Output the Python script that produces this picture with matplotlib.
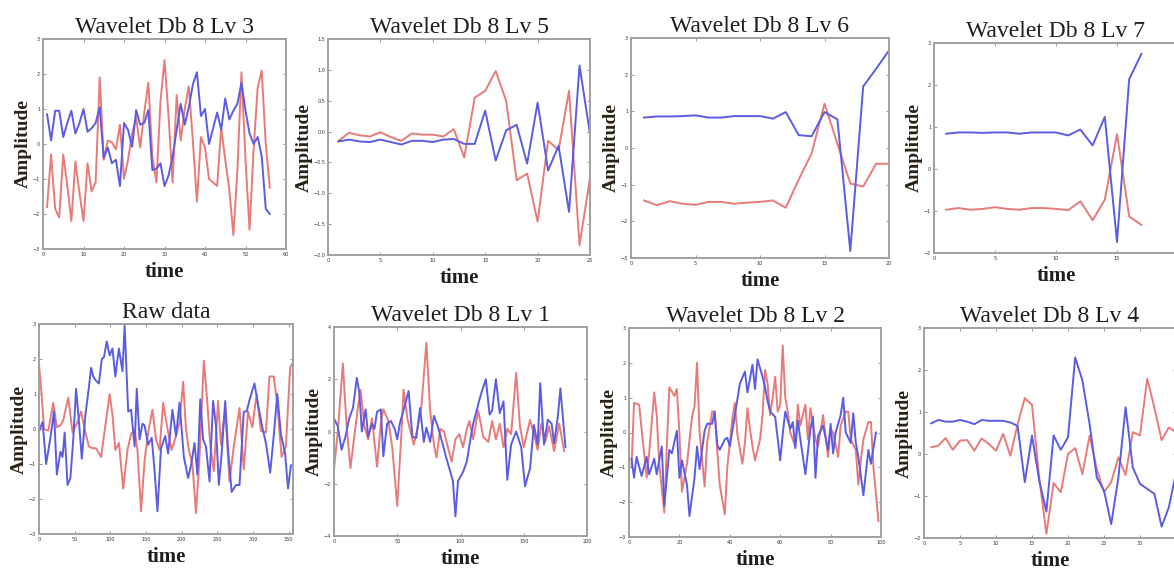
import numpy as np
import matplotlib.pyplot as plt

# ---- signal traces (time, amplitude) ----
lv3_t = np.arange(1, 57)
lv3_blue = [0.85, 0.1, 0.95, 0.95, 0.2, 0.6, 0.95, 0.3, 0.6, 1.0, 0.35, 0.45, 0.6, 1.05,
            -0.4, -0.1, -0.55, -0.45, -1.2, 0.6, 0.4, -0.08, 0.97, 0.55, 0.6, 0.97, -0.75, -0.7,
            -0.55, -1.2, -0.9, -0.36, 0.4, 1.15, 0.55, 1.05, 1.7, 2.05, 0.8, 1.0, 0.0, 0.45,
            0.9, 0.4, 1.3, 0.7, 0.95, 1.15, 1.75, 0.95, 0.3, 0.0, 0.2, -0.35, -1.85, -2.0]
lv3_red = [-1.8, -0.3, -1.85, -2.1, -0.3, -1.2, -2.2, -0.5, -1.4, -2.2, -0.55, -1.35, -1.1, 1.9,
           -0.45, 0.1, 0.05, -0.15, 0.55, -1.0, -0.45, 0.3, 0.75, -0.1, 0.9, 1.75, -0.35, -1.1,
           1.2, 2.4, 0.8, -1.1, 1.4, 0.1, 1.0, 1.65, 0.1, -1.65, 0.2, -0.1, -1.0, -1.1,
           -1.2, 0.45, -0.45, -1.3, -2.6, -0.75, 2.05, -0.45, -2.45, -0.15, 1.6, 2.1, 0.0, -1.25]

lv5_t = np.arange(1, 26)
lv5_blue = [-0.16, -0.13, -0.16, -0.17, -0.13, -0.17, -0.21, -0.15, -0.15, -0.17, -0.13, -0.12,
            -0.2, -0.2, 0.34, -0.47, 0.02, 0.11, -0.52, 0.47, -0.63, -0.23, -1.3, 1.07, -0.04]
lv5_red = [-0.15, -0.02, -0.06, -0.08, -0.01, -0.09, -0.15, -0.03, -0.05, -0.05, -0.08, 0.04,
           -0.42, 0.55, 0.66, 0.98, 0.5, -0.79, -0.68, -1.46, -0.15, -0.3, 0.66, -1.84, -0.75]

lv6_t = np.arange(1, 21)
lv6_blue = [0.83, 0.86, 0.86, 0.87, 0.89, 0.83, 0.83, 0.87, 0.87, 0.87, 0.8, 0.98, 0.35, 0.32,
            0.98, 0.78, -2.81, 1.68, 2.16, 2.66]
lv6_red = [-1.43, -1.56, -1.45, -1.52, -1.55, -1.47, -1.47, -1.52, -1.49, -1.47, -1.43, -1.63,
           -0.86, -0.15, 1.21, 0.12, -0.97, -1.05, -0.43, -0.43]

lv7_t = np.arange(1, 18)
lv7_blue = [0.84, 0.87, 0.87, 0.86, 0.87, 0.87, 0.84, 0.87, 0.87, 0.87, 0.8, 0.94, 0.56, 1.24,
            -1.74, 2.14, 2.74]
lv7_red = [-0.97, -0.93, -0.97, -0.95, -0.91, -0.95, -0.97, -0.93, -0.93, -0.95, -0.98, -0.77,
           -1.22, -0.73, 0.83, -1.13, -1.33]

raw_blue_t = [0, 5, 10, 16, 21, 25, 30, 33, 36, 40, 44, 48, 52, 56, 60, 65, 70, 73, 76, 79, 84,
              88, 91, 95, 99, 103, 107, 112, 117, 120, 125, 129, 134, 137, 141, 145, 148, 153,
              158, 162, 166, 171, 177, 181, 187, 192, 197, 203, 209, 213, 218, 222, 226, 230,
              234, 239, 244, 248, 252, 256, 261, 265, 270, 276, 281, 287, 291, 296, 302, 307,
              313, 318, 324, 329, 334, 339, 345, 349, 353]
raw_blue = [-0.07, 0.2, -1.0, -0.25, 0.5, -1.3, -0.65, -0.8, -0.1, -1.6, -1.4, -0.3, 1.15, 0.2,
            -0.85, 0.4, 1.2, 1.75, 1.5, 1.4, 1.3, 2.0, 2.05, 2.5, 2.1, 2.3, 1.5, 2.3, 1.65, 2.95,
            0.5, 0.55, -0.5, 1.15, -0.3, 0.15, 0.1, -0.45, -0.25, -1.2, -2.35, -0.55, -0.2, -0.7,
            0.55, -0.2, 0.75, -0.8, -1.4, -1.05, -0.4, -1.3, 0.85, -0.3, -0.5, -1.5, 0.8, 0.1,
            -1.6, -0.7, 0.8, -0.6, -1.8, -1.6, -1.6, 0.5, 0.5, 0.9, 1.3, 0.7, 0.05, -0.4, -1.25,
            -0.2, 1.0, -0.15, -0.7, -1.7, -1.05]
raw_red_t = [0, 4, 7, 13, 20, 25, 30, 34, 41, 47, 53, 59, 65, 70, 75, 80, 87, 93, 99, 103, 107,
             112, 118, 124, 129, 134, 138, 143, 148, 153, 159, 164, 169, 174, 181, 186, 192, 197,
             202, 206, 210, 215, 220, 225, 231, 235, 240, 245, 251, 255, 261, 267, 273, 281, 287,
             293, 299, 305, 311, 318, 323, 329, 334, 340, 346, 352, 356]
raw_red = [1.85, 0.9, 0.0, -0.05, 0.75, 0.05, 0.1, 0.25, 0.9, -0.1, 0.15, 0.5, -0.1, -0.5, -0.55,
           -0.55, -0.8, 0.1, 1.0, 0.4, -0.6, -0.4, -1.7, -0.6, -0.15, 0.0, -0.6, -2.35, -0.9,
           -0.1, 0.55, -0.3, -0.6, 0.75, -0.1, -0.6, -0.2, 0.2, 1.35, 0.0, -0.6, -1.0, -2.4, -0.8,
           1.95, 1.0, -0.45, -1.2, 0.8, -0.45, 0.55, -1.5, -0.5, 0.6, -1.15, 0.5, 0.05, 1.0,
           -0.05, -0.1, 1.5, 1.5, 0.7, -0.8, -0.5, 1.75, 1.9]

lv1_blue_t = [0, 3, 6, 9, 12, 15, 18, 20, 22, 25, 27, 30, 32, 34, 37, 39, 42, 45, 48, 50, 52, 56,
              59, 62, 65, 68, 71, 73, 76, 79, 82, 86, 89, 92, 94, 96, 98, 102, 105, 108, 110, 113,
              116, 120, 123, 125, 128, 131, 134, 137, 140, 144, 148, 151, 155, 158, 161, 163,
              166, 169, 172, 174, 177, 179, 181, 183]
lv1_blue = [0.5, 0.2, -0.7, -0.2, 0.5, 0.9, 2.05, 1.5, 0.0, 0.85, -0.2, 0.3, 0.1, 0.75, 0.85,
            -0.95, 0.3, 0.4, 0.1, -0.3, 0.3, 1.0, 1.55, -0.2, -0.25, 0.9, -0.4, 0.15, -0.4, 0.6,
            0.2, -0.5, -1.05, -1.55, -1.9, -3.25, -1.9, -1.55, -1.15, -0.25, 0.3, 0.85, 1.4, 2.0,
            0.65, 0.8, 2.0, 0.7, 1.15, -1.85, -0.5, 0.0, -0.6, -2.1, -1.4, 0.25, -0.5, 1.85,
            -0.5, 0.45, 0.3, -0.45, 0.6, 1.65, 0.5, -0.6]
lv1_red_t = [0, 3, 7, 10, 13, 16, 19, 21, 24, 27, 30, 34, 37, 39, 43, 46, 50, 53, 55, 58, 61, 63,
             66, 69, 73, 76, 79, 81, 84, 87, 90, 93, 96, 99, 102, 105, 107, 110, 114, 118, 122,
             125, 128, 131, 134, 137, 140, 144, 147, 150, 155, 158, 161, 164, 167, 170, 174,
             178, 182]
lv1_red = [-1.45, 0.0, 2.6, 0.2, -1.4, -0.2, 0.95, 1.6, 0.2, -0.3, 0.5, -1.35, 0.3, 0.85, 0.4,
           -0.6, -2.85, -0.3, 1.6, 0.5, -0.1, -0.5, 0.1, 0.9, 3.4, 0.8, -0.5, -1.0, 0.1, 0.0,
           -0.6, -1.15, -0.3, -0.1, -0.6, 0.1, 0.4, -0.3, 0.8, -0.2, -0.4, 0.4, -0.3, 0.3, -0.6,
           0.1, -0.1, 2.25, 0.2, -0.6, 0.45, -0.1, -0.7, 0.3, -0.4, 0.2, -0.75, 0.3, -0.75]

lv2_blue_t = [1, 2, 3, 5, 7, 8, 10, 11, 13, 14, 16, 17, 19, 20, 21, 23, 24, 26, 27, 28, 30, 31,
              33, 34, 35, 36, 38, 39, 40, 42, 44, 46, 47, 49, 50, 51, 53, 54, 55, 56, 58, 60,
              61, 62, 64, 65, 66, 67, 68, 70, 72, 73, 74, 75, 77, 79, 80, 81, 82, 84, 85, 86,
              88, 89, 90, 91, 93, 95, 96, 98]
lv2_blue = [-0.75, -1.3, -0.7, -1.25, -0.7, -1.2, -0.75, -1.2, -0.4, -2.1, -0.5, -0.6, 0.05,
            -1.3, -0.8, -1.5, -2.4, -1.3, -0.4, -1.05, 0.05, 0.25, 0.25, 0.6, -0.35, -0.5, -0.2,
            -0.15, -0.4, 0.5, 1.4, 1.75, 1.15, 1.95, 1.25, 2.1, 1.6, 1.3, 0.9, 0.6, 0.45, -0.8,
            -0.05, 0.6, 0.1, 0.3, -0.45, 0.35, -0.2, -1.2, 0.1, 0.45, -1.3, -0.1, 0.2, -0.5,
            0.25, -0.6, 0.0, 0.5, 1.0, 0.0, -0.3, 0.55, -0.3, -0.7, -1.8, -0.5, -0.9, 0.0]
lv2_red_t = [1, 2, 4, 6, 7, 8, 10, 11, 12, 14, 15, 16, 18, 19, 20, 21, 23, 25, 26, 27, 28, 30,
             31, 33, 34, 35, 36, 38, 39, 41, 42, 43, 45, 46, 47, 48, 49, 50, 52, 53, 54, 55, 56,
             57, 58, 59, 60, 61, 62, 63, 64, 66, 67, 68, 70, 71, 72, 74, 75, 77, 79, 80, 81, 83,
             84, 86, 87, 88, 90, 91, 92, 93, 95, 96, 97, 99]
lv2_red = [-1.0, 0.85, 0.8, -0.6, -1.3, -0.6, 1.15, 0.5, -0.9, -2.3, -0.4, 1.3, 1.05, 1.25, 0.0,
           -1.7, -0.9, 0.45, 0.75, 2.0, 0.0, -1.55, -0.3, 0.6, 0.6, -0.5, -1.5, -2.35, -1.0, 0.4,
           0.85, -0.05, -0.9, -0.3, 0.7, 0.1, -0.4, -0.8, -0.2, 0.5, 1.8, 1.4, 0.5, 1.0, 1.6,
           0.6, 0.8, 2.5, 1.0, 0.6, 0.0, -0.4, 0.8, 0.2, 0.8, -0.2, 0.7, -0.2, -0.4, 0.5, -0.7,
           0.1, 0.0, -0.7, 0.2, 0.6, 0.6, -0.2, -0.5, -1.5, -0.8, -0.2, 0.3, 0.3, -1.0, -2.55]

lv4_t = np.arange(1, 36)
lv4_blue = [0.73, 0.81, 0.77, 0.77, 0.81, 0.77, 0.71, 0.81, 0.79, 0.79, 0.79, 0.75, 0.67, -0.67,
            0.44, -0.63, -1.37, 0.44, 0.1, 0.4, 2.3, 1.75, 0.71, -0.56, -0.87, -1.67, -0.56, 1.11,
            -0.32, -0.71, -0.83, -0.95, -1.73, -1.27, -0.45]
lv4_red = [0.16, 0.2, 0.38, 0.1, 0.32, 0.33, 0.08, 0.37, 0.24, 0.08, 0.48, -0.04, 0.71, 1.33,
           1.17, -0.56, -1.9, -0.69, -0.91, 0.0, 0.14, -0.48, 0.44, -0.36, -0.91, -0.67, -0.08,
           -0.5, 0.52, 0.44, 1.79, 1.1, 0.33, 0.63, 0.52]

BLUE = '#5c5ce2'
RED = '#e87a7a'

W, H = 1174, 570
fig = plt.figure(figsize=(W / 100, H / 100), dpi=100)
fig.patch.set_facecolor('white')

# title, box (left, top, right, bottom in px), xlim, last labelled x tick, x step,
# ylim, y step, data
panels = [
    ('Wavelet Db 8 Lv 3', (43, 39, 286, 249), (0, 60), 60, 10, (-3, 3), 1,
     (lv3_t, lv3_blue), (lv3_t, lv3_red)),
    ('Wavelet Db 8 Lv 5', (328, 39, 590, 255), (0, 25), 25, 5, (-2, 1.5), 0.5,
     (lv5_t, lv5_blue), (lv5_t, lv5_red)),
    ('Wavelet Db 8 Lv 6', (631, 38, 889, 258), (0, 20), 20, 5, (-3, 3), 1,
     (lv6_t, lv6_blue), (lv6_t, lv6_red)),
    ('Wavelet Db 8 Lv 7', (934, 43, 1178, 253), (0, 20), 15, 5, (-2, 3), 1,
     (lv7_t, lv7_blue), (lv7_t, lv7_red)),
    ('Raw data', (39, 324, 293, 534), (0, 356), 350, 50, (-3, 3), 1,
     (raw_blue_t, raw_blue), (raw_red_t, raw_red)),
    ('Wavelet Db 8 Lv 1', (334, 327, 587, 536), (0, 200), 200, 50, (-4, 4), 2,
     (lv1_blue_t, lv1_blue), (lv1_red_t, lv1_red)),
    ('Wavelet Db 8 Lv 2', (629, 328, 881, 537), (0, 100), 100, 20, (-3, 3), 1,
     (lv2_blue_t, lv2_blue), (lv2_red_t, lv2_red)),
    ('Wavelet Db 8 Lv 4', (924, 328, 1176, 538), (0, 35), 30, 5, (-2, 3), 1,
     (lv4_t, lv4_blue), (lv4_t, lv4_red)),
]

serif = 'Liberation Serif'
for title, (l, t, r, b), xl, xlast, xs, yl, ys, blue, red in panels:
    ax = fig.add_axes([l / W, 1 - b / H, (r - l) / W, (b - t) / H])
    ax.plot(red[0], red[1], color=RED, lw=1.4)
    ax.plot(blue[0], blue[1], color=BLUE, lw=1.4)
    ax.set_xlim(*xl)
    ax.set_ylim(*yl)
    ax.set_xticks(np.arange(xl[0], xlast + 1e-9, xs))
    ax.set_yticks(np.arange(yl[0], yl[1] + 1e-9, ys))
    ax.tick_params(direction='in', length=2.5, width=0.6, labelsize=3.5,
                   top=True, right=True, color='#888888', labelcolor='#333333', pad=2)
    for s in ax.spines.values():
        s.set_color('#a0a0a0')
        s.set_linewidth(1.4)
    ax.set_title(title, fontsize=17, family=serif, color='#1e1e1e', pad=4)
    ax.set_ylabel('Amplitude', fontsize=14, family=serif, fontweight='bold',
                  color='#2a2216', labelpad=0.5)
    ax.set_xlabel('time', fontsize=15, family=serif, fontweight='bold',
                  color='#1e1e1e', labelpad=4)

fig.savefig('out.png', dpi=100, facecolor='white')
